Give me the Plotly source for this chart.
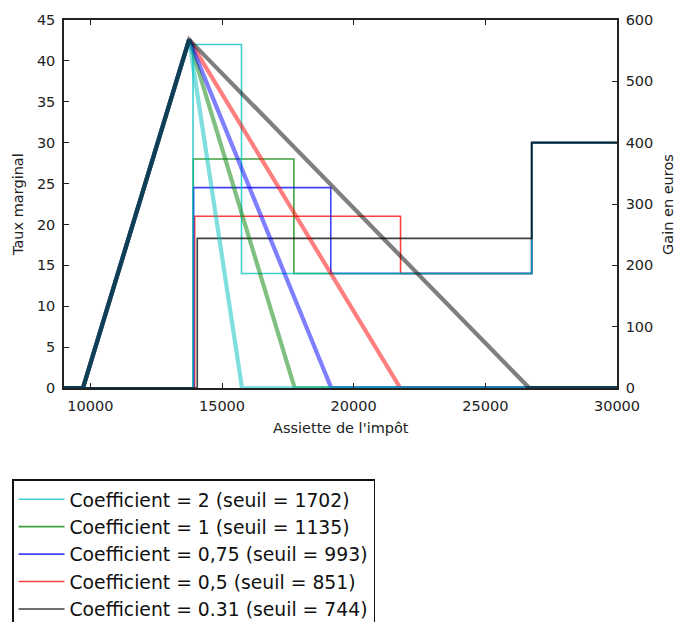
import plotly.graph_objects as go

# ---- data ----
labels = [
    "Coefficient = 2 (seuil = 1702)",
    "Coefficient = 1 (seuil = 1135)",
    "Coefficient = 0,75 (seuil = 993)",
    "Coefficient = 0,5 (seuil = 851)",
    "Coefficient = 0.31 (seuil = 744)",
]
rgb = [(0, 191, 191), (0, 128, 0), (0, 0, 255), (255, 0, 0), (0, 0, 0)]
draw_order = [3, 1, 2, 0, 4]   # order in which the series are stacked in the picture

x_start = 9000
x_end = 30000

# gain (right axis, euros)
gain_rise_start = 9720
gain_peak_x = 13750
gain_peak = 568
gain_zero = [15760, 17760, 19150, 21770, 26670]

# taux marginal (left axis, %)
taux_jump = [13900, 13910, 13920, 13960, 14060]
taux_top = [42.0, 28.0, 24.5, 21.0, 18.3]
taux_drop = [15740, 17730, 19130, 21780, None]
taux_mid = 14.0
taux_last_jump = 26760
taux_last = 30.0

x_ticks = [10000, 15000, 20000, 25000, 30000]
y_ticks = [0, 5, 10, 15, 20, 25, 30, 35, 40, 45]
y2_ticks = [0, 100, 200, 300, 400, 500, 600]

x_title = "Assiette de l'impôt"
y_title = "Taux marginal"
y2_title = "Gain en euros"

fig = go.Figure()

for i in draw_order:
    lab = labels[i]
    r, g, b = rgb[i]
    if taux_drop[i] is not None:
        tx = [x_start, taux_jump[i], taux_jump[i], taux_drop[i], taux_drop[i],
              taux_last_jump, taux_last_jump, x_end]
        ty = [0, 0, taux_top[i], taux_top[i], taux_mid, taux_mid, taux_last, taux_last]
    else:
        tx = [x_start, taux_jump[i], taux_jump[i], taux_last_jump, taux_last_jump, x_end]
        ty = [0, 0, taux_top[i], taux_top[i], taux_last, taux_last]
    fig.add_trace(go.Scatter(
        x=tx, y=ty, mode="lines", name=lab, legendrank=i + 1,
        line=dict(color=f"rgba({r},{g},{b},0.75)", width=1.6),
        yaxis="y", hoverinfo="skip"))

for i in draw_order:
    r, g, b = rgb[i]
    gx = [x_start, gain_rise_start, gain_peak_x, gain_zero[i], x_end]
    gy = [0, 0, gain_peak, 0, 0]
    fig.add_trace(go.Scatter(
        x=gx, y=gy, mode="lines", name=labels[i], showlegend=False,
        line=dict(color=f"rgba({r},{g},{b},0.5)", width=4.2),
        yaxis="y2", hoverinfo="skip"))

font_main = "DejaVu Sans"
tick_font = dict(family=font_main, size=14.5, color="#222")
title_font = dict(family=font_main, size=14.5, color="#222")

fig.update_layout(
    width=675, height=622,
    margin=dict(l=64, r=58, t=20, b=234, autoexpand=False),
    paper_bgcolor="white", plot_bgcolor="white",
    font=dict(family=font_main, color="#222"),
    xaxis=dict(
        range=[x_start, x_end], tickvals=x_ticks, ticktext=[str(v) for v in x_ticks],
        ticks="inside", ticklen=5, tickwidth=1, tickcolor="#222",
        showline=True, linecolor="#222", linewidth=1.5, mirror="ticks",
        showgrid=False, zeroline=False, tickfont=tick_font, ticklabelstandoff=4,
        tickangle=0,
    ),
    yaxis=dict(
        range=[0, 45], tickvals=y_ticks,
        ticks="inside", ticklen=5, tickwidth=1, tickcolor="#222",
        showline=True, linecolor="#222", linewidth=1.5,
        showgrid=False, zeroline=False, tickfont=tick_font, ticklabelstandoff=4,
    ),
    yaxis2=dict(
        range=[0, 600], tickvals=y2_ticks, overlaying="y", side="right",
        ticks="inside", ticklen=5, tickwidth=1, tickcolor="#222",
        showline=True, linecolor="#222", linewidth=1.5,
        showgrid=False, zeroline=False, tickfont=tick_font, ticklabelstandoff=4,
    ),
    legend=dict(
        xref="container", yref="container",
        x=12 / 675, y=1 - 479 / 622, xanchor="left", yanchor="top",
        bgcolor="white", bordercolor="#111", borderwidth=1.5,
        font=dict(family=font_main, size=18.8, color="#111"),
        tracegroupgap=2, itemwidth=46, traceorder="normal",
    ),
    showlegend=True,
    annotations=[
        dict(text=x_title, xref="paper", yref="paper", x=0.5, y=-0.1087,
             xanchor="center", yanchor="middle", showarrow=False, font=title_font),
        dict(text=y_title, xref="paper", yref="paper", x=-0.0832, y=0.5,
             xanchor="center", yanchor="middle", textangle=-90, showarrow=False,
             font=title_font),
        dict(text=y2_title, xref="paper", yref="paper", x=1.0922, y=0.5,
             xanchor="center", yanchor="middle", textangle=-90, showarrow=False,
             font=title_font),
    ],
)

fig.write_html("out.html")
